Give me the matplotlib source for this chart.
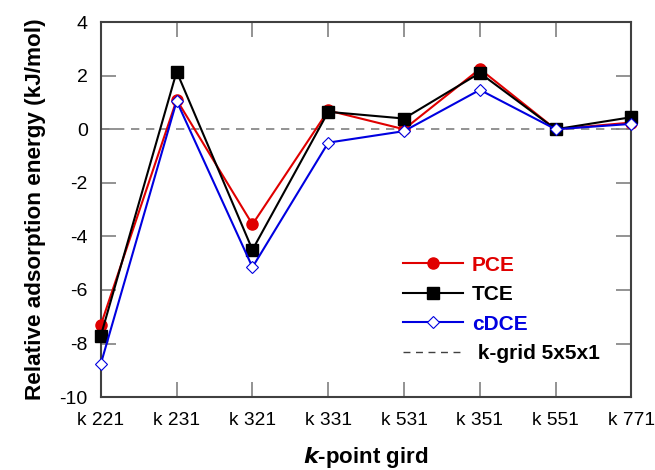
import matplotlib
matplotlib.use("Agg")
import matplotlib.pyplot as plt
from matplotlib.lines import Line2D

categories = ["k 221", "k 231", "k 321", "k 331", "k 531", "k 351", "k 551", "k 771"]
pce = [-7.3, 1.1, -3.55, 0.7, 0.0, 2.25, 0.0, 0.25]
tce = [-7.7, 2.15, -4.5, 0.65, 0.4, 2.1, 0.0, 0.45]
cdce = [-8.75, 1.05, -5.15, -0.5, -0.07, 1.47, 0.0, 0.2]
yticks = [-10, -8, -6, -4, -2, 0, 2, 4]
ref_level = 0.0

plt.rcParams['font.family'] = ['Liberation Sans', 'DejaVu Sans']

fig = plt.figure(figsize=(6.55, 4.70), dpi=100)
ax = fig.add_axes([0.154, 0.155, 0.810, 0.798])

x = list(range(len(categories)))
red = "#e00000"
blue = "#0000e0"

ax.axhline(ref_level, color="#808080", linestyle=(0, (5, 4)), linewidth=1.2, zorder=1)
ax.plot(x, pce, color=red, linewidth=1.5, marker="o", markersize=8,
        markerfacecolor=red, markeredgecolor=red, zorder=3, clip_on=False)
ax.plot(x, tce, color="black", linewidth=1.5, marker="s", markersize=8,
        markerfacecolor="black", markeredgecolor="black", zorder=4, clip_on=False)
ax.plot(x, cdce, color=blue, linewidth=1.5, marker="D", markersize=6,
        markerfacecolor="white", markeredgecolor=blue, markeredgewidth=0.8,
        zorder=5, clip_on=False)

ax.set_xlim(0, len(categories) - 1)
ax.set_ylim(-10, 4)
ax.set_xticks(x)
ax.set_xticklabels(categories, fontsize=13.8)
ax.set_yticks(yticks)
ax.set_yticklabels([str(v) for v in yticks], fontsize=14)
ax.tick_params(direction="in", length=11, width=1.2, color="#808080",
               top=True, right=True)
ax.tick_params(axis="x", pad=11)
ax.tick_params(axis="y", pad=9.5)
for s in ax.spines.values():
    s.set_color("#404040")
    s.set_linewidth(1.5)

ax.set_xlabel(r"$\bfit{k}$" + "-point gird", fontsize=16, fontweight="bold", labelpad=11)
ax.set_ylabel("Relative adsorption energy (kJ/mol)", fontsize=16.2, fontweight="bold", labelpad=10)

handles = [
    Line2D([], [], color=red, linewidth=1.5, marker="o", markersize=8, markerfacecolor=red),
    Line2D([], [], color="black", linewidth=1.5, marker="s", markersize=8),
    Line2D([], [], color=blue, linewidth=1.5, marker="D", markersize=6,
           markerfacecolor="white", markeredgecolor=blue, markeredgewidth=0.8),
    Line2D([], [], color="#404040", linewidth=1.0, linestyle=(0, (5, 4))),
]
labels = ["PCE", "TCE", "cDCE", " k-grid 5x5x1"]
leg = ax.legend(handles, labels, loc="upper left", bbox_to_anchor=(0.534, 0.427),
                frameon=False, handlelength=2.9, handletextpad=0.4,
                labelspacing=0.5, prop={"size": 15, "weight": "bold"})
for txt, c in zip(leg.get_texts(), [red, "black", blue, "black"]):
    txt.set_color(c)

fig.savefig("out.png", dpi=100)
